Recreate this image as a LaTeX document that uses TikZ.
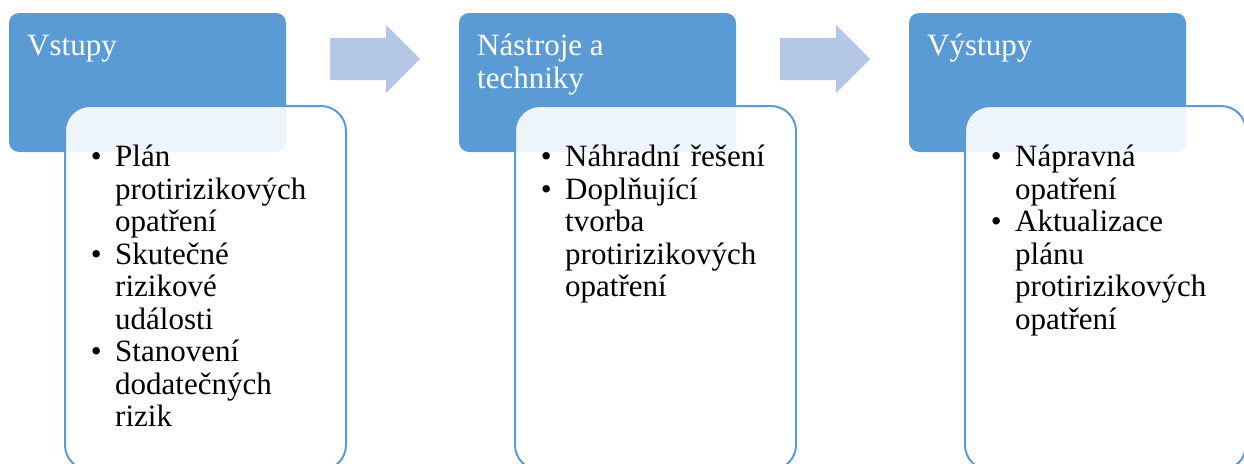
\documentclass[tikz,border=0pt]{standalone}
\usepackage{fontspec}
\setmainfont{Liberation Serif}
\usetikzlibrary{positioning,calc,shapes.arrows}
\definecolor{rbblue}{HTML}{5B9BD5}
\definecolor{rbpale}{HTML}{B4C7E7}
\newcommand{\rbfont}[1]{\fontsize{31}{#1}\selectfont}
\newcommand{\rbstrut}{\rule{0pt}{24pt}}
\newcommand{\rbitem}[1]{\par\hangindent=24.4pt\hangafter=1\noindent\rbstrut
  \makebox[24.4pt][l]{\textbullet}#1\par}
\tikzset{
  rbhead/.style ={rectangle, rounded corners=10pt, fill=rbblue, inner sep=0pt,
                  outer sep=0pt, minimum width=277pt, minimum height=139pt,
                  anchor=north west},
  rblist/.style ={rectangle, rounded corners=25pt, draw=rbblue, line width=2pt,
                  fill=white, fill opacity=0.9, inner sep=0pt, outer sep=0pt,
                  minimum width=281pt, minimum height=364pt, anchor=north west},
  rbtitle/.style={anchor=north west, inner sep=0pt, text=white, align=left,
                  font=\rbfont{33}},
  rbtext/.style ={anchor=north west, inner sep=0pt, text=black, align=left,
                  text width=250pt, font=\rbfont{32.5}},
  rbarrow/.style={single arrow, fill=rbpale, inner xsep=0pt, inner ysep=21pt,
                  anchor=tail, minimum height=90pt, minimum width=68pt,
                  single arrow head extend=13pt},
}
\begin{document}
\begin{tikzpicture}[x=1pt, y=-1pt]
  \useasboundingbox (0,0) rectangle (1244,463);
  \clip (0,0) rectangle (1244,463);
  % columns
  \foreach \n/\x in {in/0, tool/450, out/900}{
    \node[rbhead] (\n-head) at (9+\x,13) {};
    \node[rblist] (\n-list) at (65+\x,106) {};
  }
  % arrows between columns
  \foreach \n/\x in {a/0, b/450}
    \node[rbarrow] (arrow-\n) at (330+\x,59) {};
  % titles
  \node[rbtitle] (in-title)   at ($(in-head.north west)+(18,18)$)   {\rbstrut Vstupy};
  \node[rbtitle] (tool-title) at ($(tool-head.north west)+(18,18)$) {\rbstrut Nástroje a\\techniky};
  \node[rbtitle] (out-title)  at ($(out-head.north west)+(18,18)$)  {\rbstrut Výstupy};
  % items
  \node[rbtext] (in-items) at ($(in-list.north west)+(25.6,28)$)
    {\rbitem{Plán\newline protirizikových\newline opatření}%
     \rbitem{Skutečné\newline rizikové\newline události}%
     \rbitem{Stanovení\newline dodatečných\newline rizik}};
  \node[rbtext] (tool-items) at ($(tool-list.north west)+(25.6,28)$)
    {\rbitem{Náhradní řešení}%
     \rbitem{Doplňující\newline tvorba\newline protirizikových\newline opatření}};
  \node[rbtext] (out-items) at ($(out-list.north west)+(25.6,28)$)
    {\rbitem{Nápravná\newline opatření}%
     \rbitem{Aktualizace\newline plánu\newline protirizikových\newline opatření}};
\end{tikzpicture}
\end{document}
